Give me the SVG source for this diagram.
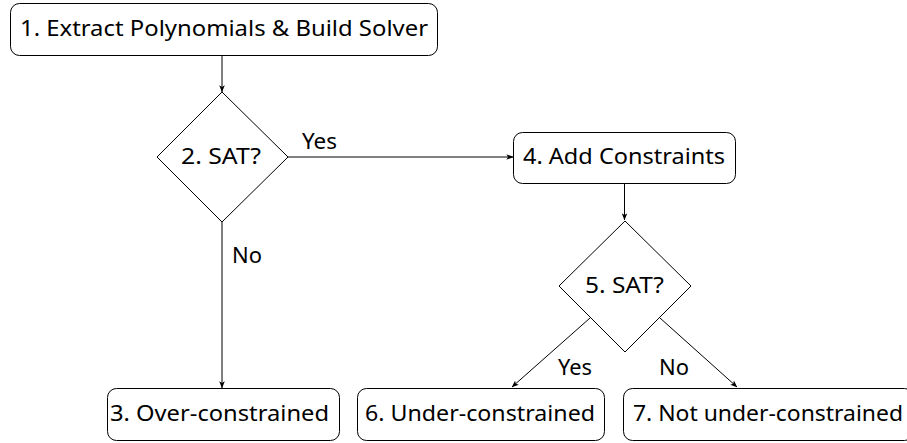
<svg xmlns="http://www.w3.org/2000/svg" width="907" height="443" viewBox="0 0 907 443">
<style>
.box{fill:#fff;stroke:#000;stroke-width:1}
.dia{fill:#fff;stroke:#000;stroke-width:1}
.t{font-family:"Noto Sans","DejaVu Sans",sans-serif;font-size:21.5px;fill:#000}
.edge{fill:none;stroke:#000;stroke-width:1;marker-end:url(#arr)}
</style>
<defs>
<marker id="arr" viewBox="0 0 10 8" refX="9.5" refY="4" markerWidth="7" markerHeight="5.6" markerUnits="userSpaceOnUse" orient="auto">
<path d="M0,0 L10,4 L0,8 L2.5,4 Z" fill="#000"/>
</marker>
</defs>
<g id="connectors">
<line class="edge" x1="222" y1="56" x2="222" y2="92"/>
<line class="edge" x1="288" y1="157" x2="513" y2="157"/>
<line class="edge" x1="624.5" y1="183" x2="624.5" y2="220"/>
<line class="edge" x1="222" y1="222" x2="222" y2="388"/>
<line class="edge" x1="590" y1="318" x2="512" y2="387"/>
<line class="edge" x1="660" y1="318" x2="737" y2="387"/>
<text class="t" x="302" y="149" textLength="35" lengthAdjust="spacingAndGlyphs">Yes</text>
<text class="t" x="232" y="263" textLength="30" lengthAdjust="spacingAndGlyphs">No</text>
<text class="t" x="558" y="375" textLength="34" lengthAdjust="spacingAndGlyphs">Yes</text>
<text class="t" x="659" y="375" textLength="30" lengthAdjust="spacingAndGlyphs">No</text>
</g>
<g id="n1">
<rect class="box" x="10.5" y="3.5" width="427" height="52" rx="9"/>
<text class="t" x="20" y="36" textLength="408" lengthAdjust="spacingAndGlyphs">1. Extract Polynomials &amp; Build Solver</text>
</g>
<g id="n2">
<polygon class="dia" points="222,92 288,157 222,222 157,157"/>
<text class="t" x="181" y="164" textLength="80" lengthAdjust="spacingAndGlyphs">2. SAT?</text>
</g>
<g id="n4">
<rect class="box" x="513.5" y="132.5" width="222" height="51" rx="9"/>
<text class="t" x="523" y="164" textLength="202" lengthAdjust="spacingAndGlyphs">4. Add Constraints</text>
</g>
<g id="n5">
<polygon class="dia" points="625,221 691,286 625,352 559,286"/>
<text class="t" x="585" y="293" textLength="79" lengthAdjust="spacingAndGlyphs">5. SAT?</text>
</g>
<g id="n3">
<rect class="box" x="107.5" y="388.5" width="232" height="52" rx="9"/>
<text class="t" x="110" y="421" textLength="219" lengthAdjust="spacingAndGlyphs">3. Over-constrained</text>
</g>
<g id="n6">
<rect class="box" x="357.5" y="388.5" width="247" height="52" rx="9"/>
<text class="t" x="365" y="421" textLength="230" lengthAdjust="spacingAndGlyphs">6. Under-constrained</text>
</g>
<g id="n7">
<rect class="box" x="623.5" y="388.5" width="290" height="52" rx="9"/>
<text class="t" x="633" y="421" textLength="270" lengthAdjust="spacingAndGlyphs">7. Not under-constrained</text>
</g>
</svg>
